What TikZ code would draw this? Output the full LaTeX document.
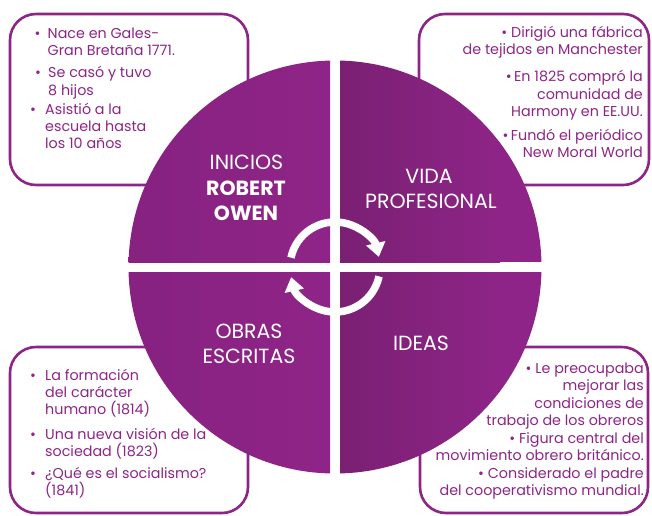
\documentclass[tikz,border=0pt]{standalone}
\usepackage{fontspec}
\setmainfont{Poppins}
\usetikzlibrary{arrows.meta}
\definecolor{owpurple}{RGB}{142,36,135}
\definecolor{owmid}{RGB}{135,34,129}
\definecolor{owdark}{RGB}{122,32,115}
\begin{document}
\begin{tikzpicture}[x=1pt,y=-1pt,
  infobox/.style={draw=owpurple, line width=2.6pt, rounded corners=26pt},
  boxtext/.style={text=owpurple, font=\fontsize{14.3}{17.3}\selectfont, inner sep=0pt},
  leftitem/.style={boxtext, anchor=base west, align=left},
  rightitem/.style={boxtext, anchor=base east, align=right},
  bulletmark/.style={boxtext, anchor=base},
  circlabel/.style={text=white, font=\fontsize{20.5}{25}\selectfont, inner sep=0pt, anchor=base},
  cyclearrow/.style={draw=white, line width=7.5pt, -{Triangle[width=19pt,length=14pt]}}]
\useasboundingbox (0,0) rectangle (652,515);

% info boxes
\draw[infobox] (10,14) rectangle (248,185);
\draw[infobox] (419,14) rectangle (649,185);
\draw[infobox] (10,347) rectangle (248,513);
\draw[infobox] (420,347) rectangle (648,513);

% circle quadrants
\begin{scope}
  \clip (335,267) circle (206.5);
  \shade[left color=owmid, right color=owpurple] (125,50) rectangle (330,262);
  \shade[left color=owdark, right color=owpurple] (340,50) rectangle (500,262);
  \shade[left color=owmid, right color=owpurple] (125,272) rectangle (330,480);
  \shade[left color=owdark, right color=owpurple] (340,272) rectangle (500,480);
  \fill[owpurple] (499,50) rectangle (550,262);
  \fill[owpurple] (499,272) rectangle (550,480);
\end{scope}

% cycle arrows
\coordinate (cc) at (335,267);
\draw[cyclearrow] ([shift={(-168:45)}]cc) arc[start angle=-168, end angle=-13, radius=45];
\draw[cyclearrow] ([shift={(12:45)}]cc) arc[start angle=12, end angle=167, radius=45];

% circle labels
\node[circlabel] (ini1) at (246.5,169.3) {INICIOS};
\node[circlabel] (ini2) at (246,195) {\bfseries ROBERT};
\node[circlabel] (ini3) at (246,220) {\bfseries OWEN};
\node[circlabel] (vid1) at (429,183.3) {VIDA};
\node[circlabel] (vid2) at (431,208.3) {PROFESIONAL};
\node[circlabel] (obr1) at (249,338.3) {OBRAS};
\node[circlabel] (obr2) at (249,363.3) {ESCRITAS};
\node[circlabel] (ide1) at (421,350) {IDEAS};

% top-left box text (node base = last line baseline)
\node[bulletmark] (tlb1) at (37.5,38.3) {•};
\node[leftitem] (tlt1) at (47.5,55.6) {Nace en Gales-\\Gran Bretaña 1771.};
\node[bulletmark] (tlb2) at (38,77.7) {•};
\node[leftitem] (tlt2) at (48,95) {Se casó y tuvo\\8 hijos};
\node[bulletmark] (tlb3) at (33,114.3) {•};
\node[leftitem] (tlt3) at (45,148.9) {Asistió a la\\escuela hasta\\los 10 años};

% top-right box text
\node[rightitem] (trt1) at (643,54.6) {• Dirigió una fábrica\\de tejidos en Manchester};
\node[rightitem] (trt2) at (643,116.3) {•\,En 1825 compró la\\comunidad de\\Harmony en EE.UU.};
\node[rightitem] (trt3) at (643,157.3) {•\,Fundó el periódico\\New Moral World};

% bottom-left box text
\node[bulletmark] (blb1) at (33,380) {•};
\node[leftitem] (blt1) at (45,414.6) {La formación\\del carácter\\humano (1814)};
\node[bulletmark] (blb2) at (33,439) {•};
\node[leftitem] (blt2) at (45,456.3) {Una nueva visión de la\\sociedad (1823)};
\node[bulletmark] (blb3) at (33,478.3) {•};
\node[leftitem] (blt3) at (45,495.6) {¿Qué es el socialismo?\\(1841)};

% bottom-right box text
\node[rightitem, font=\fontsize{14.3}{17.45}\selectfont] (brt1) at (644,495.5) {• Le preocupaba\\mejorar las\\condiciones de\\trabajo de los obreros\\• Figura central del\\movimiento obrero británico.\\• Considerado el padre\\del cooperativismo mundial.};
\end{tikzpicture}
\end{document}
